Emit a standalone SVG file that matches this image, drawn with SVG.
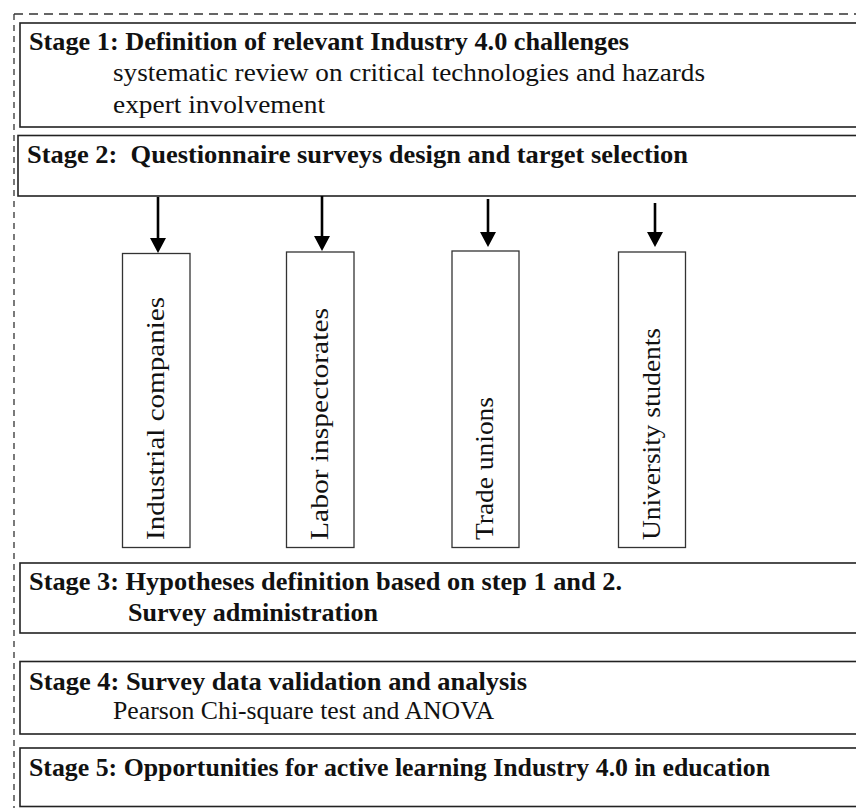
<svg xmlns="http://www.w3.org/2000/svg" width="856" height="808" viewBox="0 0 856 808">
  <style>
    .frame { fill: none; stroke: #333; stroke-width: 1.3; }
    .stage { fill: #fff; stroke: #222; stroke-width: 1.6; }
    .target { fill: #fff; stroke: #333; stroke-width: 1.3; }
    .conn { stroke: #000; stroke-width: 2.6; fill: none; }
    .head { fill: #000; }
    text { font-family: "Liberation Serif", "DejaVu Serif", serif; font-size: 24.5px; fill: #111; }
    .b { font-weight: bold; }
  </style>

  <!-- dashed outline of the whole process -->
  <line class="frame" x1="14" y1="14" x2="856" y2="14" stroke-dasharray="9 6"/>
  <line class="frame" x1="14" y1="14" x2="14" y2="808" stroke-dasharray="6 5"/>

  <g id="stage1">
    <rect class="stage" x="20" y="23" width="860" height="104"/>
    <text class="b" x="29" y="50" textLength="600" lengthAdjust="spacingAndGlyphs">Stage 1: Definition of relevant Industry 4.0 challenges</text>
    <text x="113" y="81" textLength="592" lengthAdjust="spacingAndGlyphs">systematic review on critical technologies and hazards</text>
    <text x="113" y="113" textLength="212" lengthAdjust="spacingAndGlyphs">expert involvement</text>
  </g>

  <g id="stage2">
    <rect class="stage" x="18" y="135.5" width="862" height="60.5"/>
    <text class="b" x="27" y="163" textLength="661" lengthAdjust="spacingAndGlyphs">Stage 2:&#160; Questionnaire surveys design and target selection</text>
  </g>

  <g id="industrial">
    <rect class="target" x="122.5" y="253.5" width="67.5" height="294"/>
    <text transform="translate(164,540) rotate(-90)" textLength="243" lengthAdjust="spacingAndGlyphs">Industrial companies</text>
  </g>
  <g id="labor">
    <rect class="target" x="286.5" y="252" width="67.5" height="295.5"/>
    <text transform="translate(328,540) rotate(-90)" textLength="232" lengthAdjust="spacingAndGlyphs">Labor inspectorates</text>
  </g>
  <g id="unions">
    <rect class="target" x="452" y="251" width="67" height="296.5"/>
    <text transform="translate(493,540) rotate(-90)" textLength="143" lengthAdjust="spacingAndGlyphs">Trade unions</text>
  </g>
  <g id="students">
    <rect class="target" x="618.5" y="252" width="67" height="295.5"/>
    <text transform="translate(660,540) rotate(-90)" textLength="212" lengthAdjust="spacingAndGlyphs">University students</text>
  </g>

  <g id="stage3">
    <rect class="stage" x="20" y="563" width="860" height="70"/>
    <text class="b" x="29" y="590" textLength="593" lengthAdjust="spacingAndGlyphs">Stage 3: Hypotheses definition based on step 1 and 2.</text>
    <text class="b" x="128" y="621" textLength="250" lengthAdjust="spacingAndGlyphs">Survey administration</text>
  </g>

  <g id="stage4">
    <rect class="stage" x="20" y="661.5" width="860" height="72.5"/>
    <text class="b" x="29" y="690" textLength="498" lengthAdjust="spacingAndGlyphs">Stage 4: Survey data validation and analysis</text>
    <text x="113" y="719" textLength="381" lengthAdjust="spacingAndGlyphs">Pearson Chi-square test and ANOVA</text>
  </g>

  <g id="stage5">
    <rect class="stage" x="20" y="748" width="860" height="58.5"/>
    <text class="b" x="29" y="776" textLength="741" lengthAdjust="spacingAndGlyphs">Stage 5: Opportunities for active learning Industry 4.0 in education</text>
  </g>

  <g id="connectors">
    <line class="conn" x1="158" y1="197" x2="158" y2="240"/>
    <polygon class="head" points="150,238 166,238 158,253"/>
    <line class="conn" x1="322" y1="196" x2="322" y2="238"/>
    <polygon class="head" points="314,236 330,236 322,251"/>
    <line class="conn" x1="488" y1="199" x2="488" y2="234"/>
    <polygon class="head" points="480,232 496,232 488,247"/>
    <line class="conn" x1="655" y1="203" x2="655" y2="234"/>
    <polygon class="head" points="647,232 663,232 655,247"/>
  </g>
</svg>
